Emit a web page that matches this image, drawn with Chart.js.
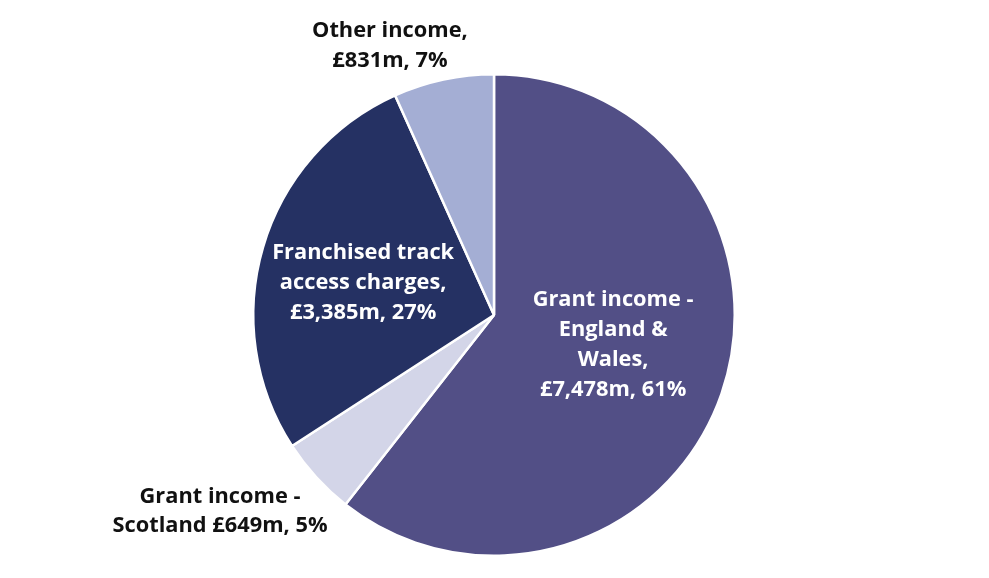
<!DOCTYPE html>
<html>
<head>
<meta charset="utf-8">
<script src="https://cdn.jsdelivr.net/npm/chart.js@4/dist/chart.umd.min.js"></script>
<style>
  html, body { margin: 0; padding: 0; background: #fff; }
  #wrap { width: 989px; height: 578px; position: relative; }
</style>
</head>
<body>
<div id="wrap"><canvas id="incomechart"></canvas></div>
<script>
// Income sources (£m), clockwise from 12 o'clock
var categories = ['Grant income - England & Wales', 'Grant income - Scotland', 'Franchised track access charges', 'Other income'];
var values = [7478, 649, 3385, 831];
var percents = [61, 5, 27, 7];
var labelLines = [
    ['Grant income -', 'England &', 'Wales,', '£7,478m, 61%'],
    ['Grant income -', 'Scotland £649m, 5%'],
    ['Franchised track', 'access charges,', '£3,385m, 27%'],
    ['Other income,', '£831m, 7%']
];
var colours = ['#524f86', '#d3d5e8', '#253163', '#a4aed4'];

// where each label sits: fraction of radius along the slice middle, plus a small nudge
var labelPlace = [
    { r: 0.51, da: -5, colour: '#ffffff' },
    { r: 1.4, da: 6.8, colour: '#111111' },
    { r: 0.56, da: -2.5, colour: '#ffffff' },
    { r: 1.2, da: -9, colour: '#111111' }
];

var sliceLabels = {
    id: 'sliceLabels',
    afterDatasetsDraw: function(chart) {
        var ctx = chart.ctx;
        var arcs = chart.getDatasetMeta(0).data;
        ctx.save();
        ctx.font = 'bold 21.8px "Open Sans", Inter, sans-serif';
        ctx.textAlign = 'center';
        ctx.textBaseline = 'middle';
        arcs.forEach(function(arc, i) {
            var p = labelPlace[i];
            var mid = (arc.startAngle + arc.endAngle) / 2 + p.da * Math.PI / 180;
            var cx = arc.x + Math.cos(mid) * arc.outerRadius * p.r;
            var cy = arc.y + Math.sin(mid) * arc.outerRadius * p.r;
            var lines = labelLines[i];
            var lh = 29.8;
            ctx.fillStyle = p.colour;
            for (var k = 0; k < lines.length; k++) {
                ctx.fillText(lines[k], cx, cy + (k - (lines.length - 1) / 2) * lh);
            }
        });
        ctx.restore();
    }
};

var ctx = document.getElementById('incomechart');
var incomeChart = new Chart(ctx, {
    type: 'pie',
    data: {
        labels: categories,
        datasets: [{
            data: values,
            backgroundColor: colours,
            borderColor: '#ffffff',
            borderWidth: 2.5
        }]
    },
    options: {
        responsive: true,
        maintainAspectRatio: false,
        animation: false,
        layout: { padding: { top: 73, bottom: 21, left: 0, right: 1 } },
        plugins: {
            legend: { display: false },
            tooltip: { enabled: false }
        }
    },
    plugins: [sliceLabels]
});
</script>
</body>
</html>
